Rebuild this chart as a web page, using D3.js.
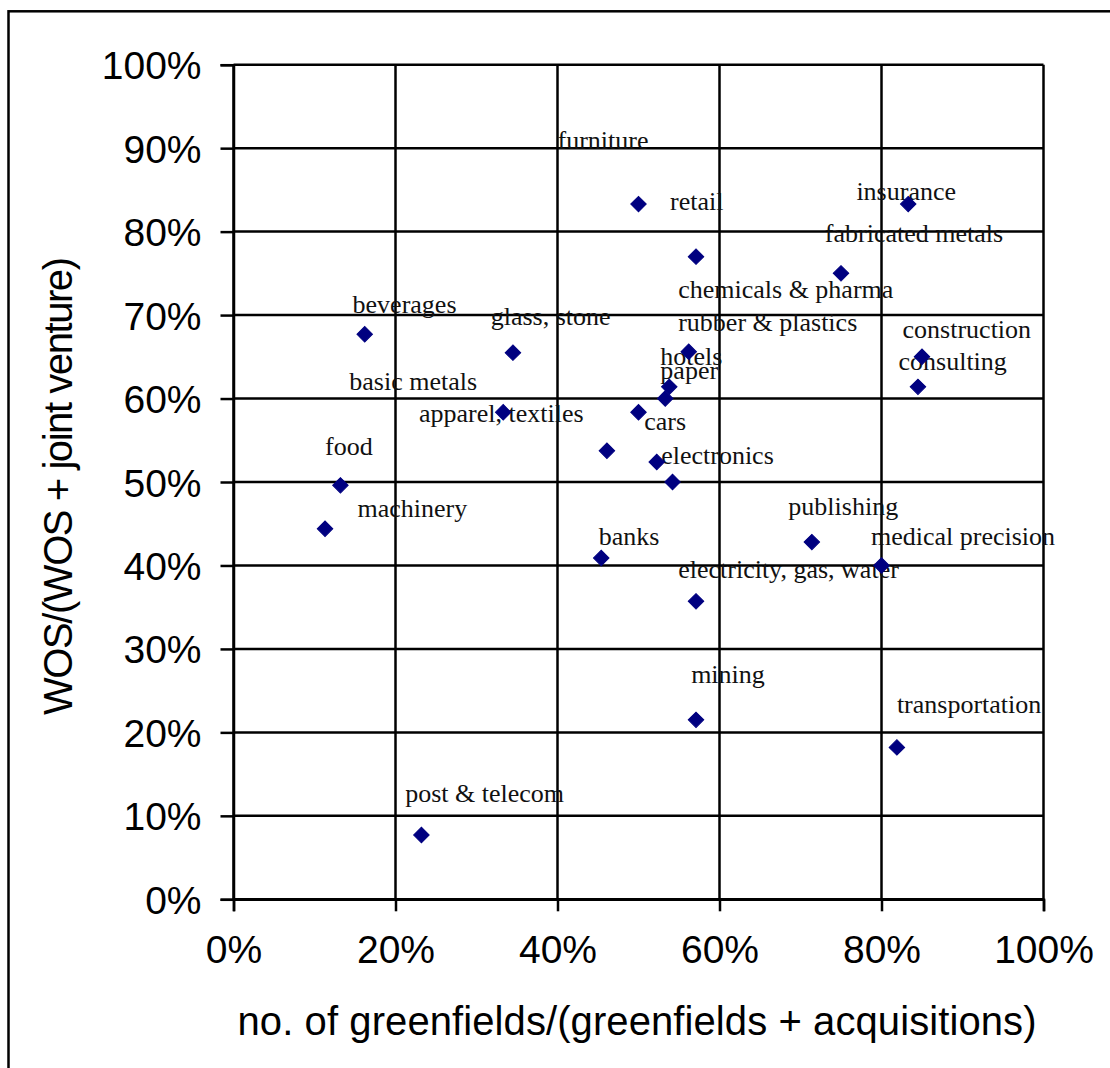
<!DOCTYPE html>
<html>
<head>
<meta charset="utf-8">
<script src="https://cdn.jsdelivr.net/npm/d3@7"></script>
<style>
  html, body { margin: 0; padding: 0; background: #fff; }
  svg { display: block; }
</style>
</head>
<body>
<div id="chart"></div>
<script>
// ---- data ----
const sectors = [
  "furniture", "retail", "insurance", "fabricated metals", "chemicals & pharma",
  "rubber & plastics", "hotels", "paper", "cars", "electronics",
  "construction", "consulting", "beverages", "glass, stone", "basic metals",
  "apparel, textiles", "food", "machinery", "banks", "publishing",
  "medical precision", "electricity, gas, water", "mining", "transportation", "post & telecom"
];
// share of greenfields in (greenfields + acquisitions)
const greenfieldShare = [
  0.500, 0.571, 0.833, 0.750, 0.562,
  0.538, 0.533, 0.542, 0.500, 0.5225,
  0.850, 0.845, 0.162, 0.345, 0.461,
  0.333, 0.132, 0.113, 0.454, 0.714,
  0.800, 0.571, 0.571, 0.819, 0.232
];
// share of WOS in (WOS + joint venture)
const wosShare = [
  0.833, 0.770, 0.833, 0.750, 0.656,
  0.614, 0.600, 0.500, 0.5835, 0.524,
  0.650, 0.614, 0.677, 0.655, 0.5375,
  0.5835, 0.496, 0.444, 0.409, 0.428,
  0.400, 0.357, 0.215, 0.182, 0.077
];
// label anchor (text start / baseline) in data units
const labelAnchorX = [
  0.400, 0.539, 0.769, 0.730, 0.549,
  0.549, 0.527, 0.527, 0.507, 0.528,
  0.826, 0.821, 0.147, 0.3175, 0.143,
  0.229, 0.113, 0.153, 0.451, 0.685,
  0.787, 0.549, 0.565, 0.819, 0.212
];
const labelAnchorY = [
  0.899, 0.826, 0.838, 0.788, 0.720,
  0.681, 0.640, 0.623, 0.562, 0.522,
  0.672, 0.634, 0.703, 0.688, 0.610,
  0.572, 0.532, 0.458, 0.425, 0.4605,
  0.4245, 0.385, 0.2595, 0.223, 0.116
];
const xTicks = [0, 0.2, 0.4, 0.6, 0.8, 1.0];
const yTicks = [0, 0.1, 0.2, 0.3, 0.4, 0.5, 0.6, 0.7, 0.8, 0.9, 1.0];
const xTitle = "no. of greenfields/(greenfields + acquisitions)";
const yTitle = "WOS/(WOS + joint venture)";

// ---- layout ----
const W = 1110, H = 1068;
const margin = { left: 233.5, top: 64.7, width: 810, height: 834.6 };

const svg = d3.select("#chart").append("svg")
  .attr("width", W).attr("height", H);

// outer chart-area border (extends past the window on right and bottom)
svg.append("rect")
  .attr("x", 8.5).attr("y", 11.3)
  .attr("width", W + 20).attr("height", H + 20)
  .attr("fill", "#fff").attr("stroke", "#000").attr("stroke-width", 2.5);

const x = d3.scaleLinear().domain([0, 1]).range([margin.left, margin.left + margin.width]);
const y = d3.scaleLinear().domain([0, 1]).range([margin.top + margin.height, margin.top]);

const fmt = d3.format(".0%");

// gridlines
const g = svg.append("g");
g.selectAll("line.h").data(yTicks).join("line")
  .attr("class", "h")
  .attr("x1", x(0)).attr("x2", x(1))
  .attr("y1", d => y(d)).attr("y2", d => y(d))
  .attr("stroke", "#000").attr("stroke-width", 2.5);
g.selectAll("line.v").data(xTicks).join("line")
  .attr("class", "v")
  .attr("y1", y(0)).attr("y2", y(1))
  .attr("x1", d => x(d)).attr("x2", d => x(d))
  .attr("stroke", "#000").attr("stroke-width", 2.5);

// axes
const yAxis = d3.axisLeft(y).tickValues(yTicks).tickFormat(fmt).tickSize(13).tickPadding(19);
const xAxis = d3.axisBottom(x).tickValues(xTicks).tickFormat(fmt).tickSize(12).tickPadding(17);

const ya = svg.append("g").attr("transform", `translate(${x(0)},0)`).call(yAxis);
const xa = svg.append("g").attr("transform", `translate(0,${y(0)})`).call(xAxis);
[ya, xa].forEach(a => {
  a.select(".domain").attr("stroke", "#000").attr("stroke-width", 2.5);
  a.selectAll(".tick line").attr("stroke", "#000").attr("stroke-width", 2.5);
  a.selectAll(".tick text")
    .attr("fill", "#000")
    .style("font-family", "'Liberation Sans', Arial, sans-serif")
    .style("font-size", "39px");
});
ya.selectAll(".tick text").attr("dy", "0.36em");
xa.selectAll(".tick text").attr("dy", "0.9em");

// axis titles
svg.append("text")
  .attr("x", 637).attr("y", 1035)
  .attr("text-anchor", "middle")
  .style("font-family", "'Liberation Sans', Arial, sans-serif")
  .style("font-size", "40px")
  .attr("textLength", 799).attr("lengthAdjust", "spacing")
  .attr("fill", "#000")
  .text(xTitle);

svg.append("text")
  .attr("transform", `translate(72,486) rotate(-90)`)
  .attr("text-anchor", "middle")
  .style("font-family", "'Liberation Sans', Arial, sans-serif")
  .style("font-size", "40px")
  .attr("textLength", 458).attr("lengthAdjust", "spacing")
  .attr("fill", "#000")
  .text(yTitle);

// data
const data = sectors.map((s, i) => ({
  name: s, gx: greenfieldShare[i], wy: wosShare[i],
  lx: labelAnchorX[i], ly: labelAnchorY[i]
}));

// labels
svg.append("g").selectAll("text").data(data).join("text")
  .attr("x", d => x(d.lx)).attr("y", d => y(d.ly))
  .style("font-family", "'Liberation Serif', 'Times New Roman', serif")
  .style("font-size", "26px")
  .attr("fill", "#111")
  .text(d => d.name);

// markers (diamonds)
const diamond = d3.symbol().type(d3.symbolSquare).size(120);
svg.append("g").selectAll("path").data(data).join("path")
  .attr("d", diamond)
  .attr("transform", d => `translate(${x(d.gx)},${y(d.wy)}) rotate(45)`)
  .attr("fill", "#000080").attr("stroke", "#000080").attr("stroke-width", 1);
</script>
</body>
</html>
